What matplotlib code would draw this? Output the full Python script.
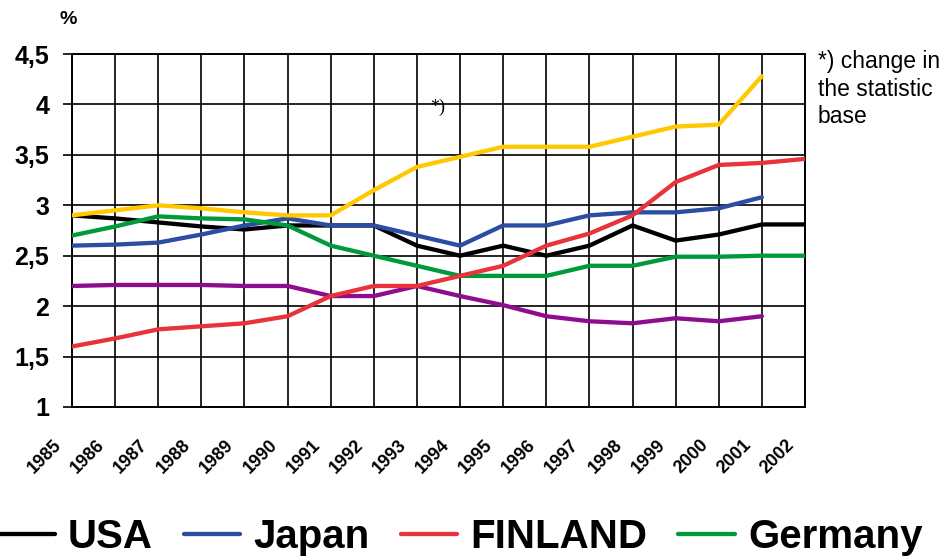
import numpy as np
import matplotlib
matplotlib.use("Agg")
import matplotlib.pyplot as plt
import matplotlib.transforms as mtransforms

# ---------- data ----------
years = list(range(1985, 2003))
usa = [2.9, 2.87, 2.83, 2.79, 2.76, 2.8, 2.8, 2.8, 2.6, 2.5, 2.6, 2.5, 2.6, 2.8, 2.65, 2.71, 2.81, 2.81]
japan = [2.6, 2.61, 2.63, 2.71, 2.8, 2.87, 2.8, 2.8, 2.7, 2.6, 2.8, 2.8, 2.9, 2.93, 2.93, 2.97, 3.08, np.nan]
finland = [1.6, 1.68, 1.77, 1.8, 1.83, 1.9, 2.1, 2.2, 2.2, 2.3, 2.4, 2.6, 2.72, 2.9, 3.23, 3.4, 3.42, 3.46]
germany = [2.7, 2.79, 2.89, 2.87, 2.86, 2.8, 2.6, 2.5, 2.4, 2.3, 2.3, 2.3, 2.4, 2.4, 2.49, 2.49, 2.5, 2.5]
series_yellow = [2.9, 2.95, 3.0, 2.97, 2.93, 2.9, 2.9, 3.15, 3.38, 3.48, 3.58, 3.58, 3.58, 3.68, 3.78, 3.8, 4.28, np.nan]
series_purple = [2.2, 2.21, 2.21, 2.21, 2.2, 2.2, 2.1, 2.1, 2.2, 2.1, 2.01, 1.9, 1.85, 1.83, 1.88, 1.85, 1.9, np.nan]

yticks = [1, 1.5, 2, 2.5, 3, 3.5, 4, 4.5]
ytick_labels = ["1", "1,5", "2", "2,5", "3", "3,5", "4", "4,5"]

legend_names = ["USA", "Japan", "FINLAND", "Germany"]

# ---------- figure ----------
W, H = 943, 560
fig = plt.figure(figsize=(W / 100, H / 100), dpi=100)
ax = fig.add_axes([72 / W, 1 - 407 / H, 733 / W, 353 / H])

lw = 3.1
ax.plot(years, series_purple, color="#8E0C8E", lw=lw, solid_capstyle="round", zorder=3)
l_usa, = ax.plot(years, usa, color="black", lw=lw, solid_capstyle="round", zorder=3)
l_jp, = ax.plot(years, japan, color="#2B4EA2", lw=lw, solid_capstyle="round", zorder=3)
l_de, = ax.plot(years, germany, color="#009A3A", lw=lw, solid_capstyle="round", zorder=3)
l_fi, = ax.plot(years, finland, color="#E8333B", lw=lw, solid_capstyle="round", zorder=3)
ax.plot(years, series_yellow, color="#FFC800", lw=lw, solid_capstyle="round", zorder=3)

ax.set_xlim(1985, 2002)
ax.set_ylim(1, 4.5)
ax.set_xticks(years)
ax.set_yticks(yticks)
ax.set_yticklabels(ytick_labels, fontsize=18, fontweight="bold", family="Liberation Sans")
ax.set_xticklabels([str(y) for y in years], rotation=45, ha="right", va="top",
                   fontsize=13, fontweight="bold", family="Liberation Sans")
ax.grid(True, color="black", lw=1.2, zorder=1)
ax.set_axisbelow(True)
for s in ax.spines.values():
    s.set_color("black")
    s.set_linewidth(1.4)
ax.tick_params(axis="y", length=6.5, width=1.2, pad=10, color="black")
ax.tick_params(axis="x", length=0, pad=21)

# shift the rotated year labels a bit to the left, like the original
shift = mtransforms.ScaledTranslation(-7 / 100, 0, fig.dpi_scale_trans)
for lab in ax.get_xticklabels():
    lab.set_transform(lab.get_transform() + shift)

# ---------- texts ----------
fig.text(60 / W, 1 - 20 / H, "%", fontsize=14, fontweight="bold", family="Liberation Sans",
         ha="left", va="center")
ax.text(1993.3, 3.97, "*)", fontsize=13, family="Liberation Serif", ha="left", va="center")
fig.text(818 / W, 1 - 50 / H, "*) change in\nthe statistic\nbase", fontsize=16.5,
         family="Liberation Sans", ha="left", va="top", linespacing=1.25)

# ---------- legend ----------
fig.legend([l_usa, l_jp, l_fi, l_de], legend_names, loc="center left",
           bbox_to_anchor=(-2 / W, 1 - 537 / H), ncol=4, frameon=False,
           prop={"family": "Liberation Sans", "weight": "bold", "size": 29},
           handlelength=1.41, handletextpad=0.32, columnspacing=0.77,
           borderpad=0, borderaxespad=0)

fig.savefig("out.png", dpi=100)
